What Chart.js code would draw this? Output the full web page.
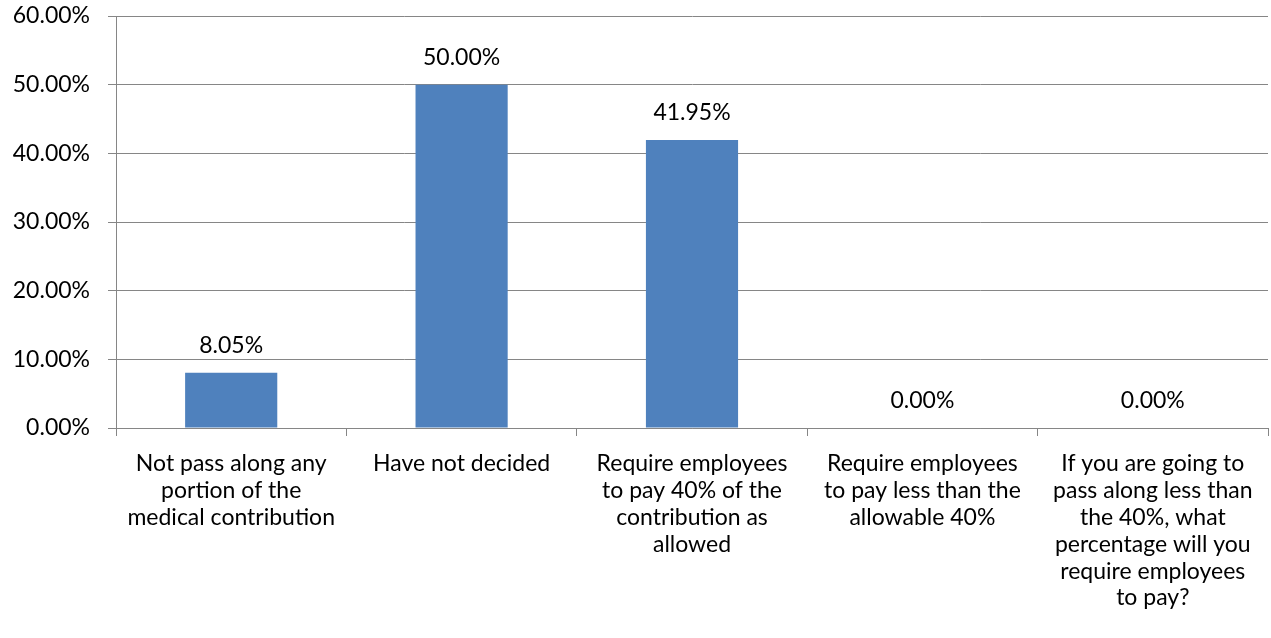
<!DOCTYPE html>
<html>
<head>
<meta charset="utf-8">
<script src="https://cdn.jsdelivr.net/npm/chart.js@4/dist/chart.umd.min.js"></script>
<style>
  html, body { margin: 0; padding: 0; background: #fff; }
  #wrap { width: 1271px; height: 638px; }
</style>
</head>
<body>
<div id="wrap"><canvas id="chart1" width="1271" height="638"></canvas></div>
<script>
const categories = [
    ['Not pass along any', 'portion of the', 'medical contribution'],
    ['Have not decided'],
    ['Require employees', 'to pay 40% of the', 'contribution as', 'allowed'],
    ['Require employees', 'to pay less than the', 'allowable 40%'],
    ['If you are going to', 'pass along less than', 'the 40%, what', 'percentage will you', 'require employees', 'to pay?']
]
const values = [8.05, 50.00, 41.95, 0.00, 0.00]
const yTicks = [0, 10, 20, 30, 40, 50, 60]

const fontFamily = 'Lato, "Open Sans", sans-serif'

// writes the percentage above every bar
const valueLabels = {
    id: 'valueLabels',
    afterDatasetsDraw(chart) {
        const ctx = chart.ctx
        const meta = chart.getDatasetMeta(0)
        ctx.save()
        ctx.font = '23px ' + fontFamily
        ctx.fillStyle = '#000'
        ctx.textAlign = 'center'
        ctx.textBaseline = 'middle'
        meta.data.forEach((bar, i) => {
            ctx.fillText(values[i].toFixed(2) + '%', bar.x, bar.y - 27)
        })
        ctx.restore()
    }
}

const chartData = {
    labels: categories,
    datasets: [{
        data: values,
        backgroundColor: '#4F81BD',
        borderWidth: 0,
        barPercentage: 0.4,
        categoryPercentage: 1
    }]
}

new Chart('chart1', {
    type: 'bar',
    data: chartData,
    plugins: [valueLabels],
    options: {
        responsive: false,
        animation: false,
        layout: { padding: { top: 16, right: 3, left: 0, bottom: 0 } },
        plugins: { legend: { display: false }, tooltip: { enabled: false } },
        scales: {
            y: {
                min: 0,
                max: 60,
                afterFit: scale => {
                    scale.width = 116
                    scale.paddingTop = 0
                    scale.paddingBottom = 0
                },
                afterBuildTicks: scale => { scale.ticks = yTicks.map(v => ({ value: v })) },
                border: { color: '#868686', width: 1 },
                grid: { color: '#868686', lineWidth: 1, tickLength: 8 },
                ticks: {
                    color: '#000',
                    padding: 18,
                    font: { family: fontFamily, size: 23 },
                    callback: v => v.toFixed(2) + '%'
                }
            },
            x: {
                afterFit: scale => {
                    scale.height = 210
                    scale.paddingLeft = 0
                    scale.paddingRight = 0
                },
                border: { color: '#868686', width: 1 },
                grid: { drawOnChartArea: false, color: '#868686', tickLength: 8 },
                ticks: {
                    color: '#000',
                    maxRotation: 0,
                    autoSkip: false,
                    padding: 14,
                    font: { family: fontFamily, size: 23, lineHeight: 1.17 }
                }
            }
        }
    }
})
</script>
</body>
</html>
